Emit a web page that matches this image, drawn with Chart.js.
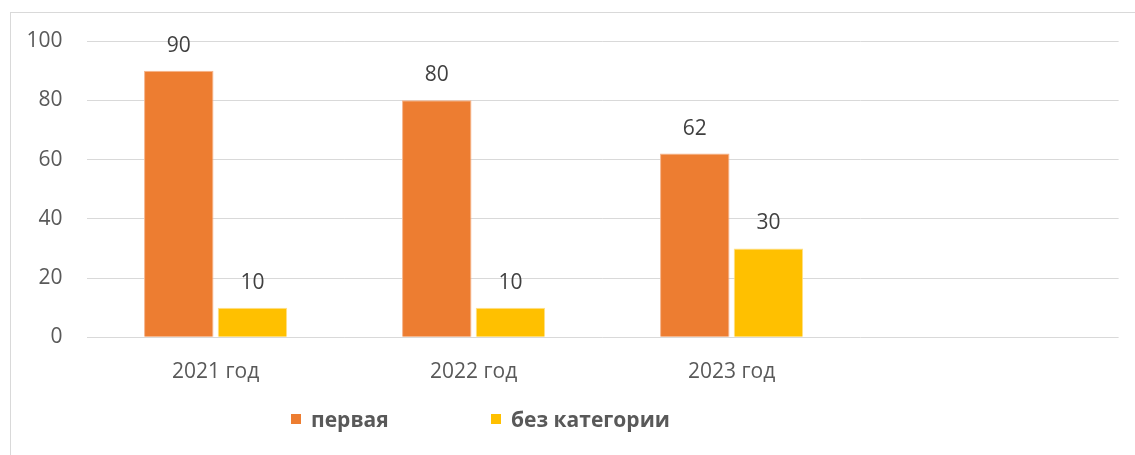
<!DOCTYPE html>
<html>
<head>
<meta charset="utf-8">
<script src="https://cdn.jsdelivr.net/npm/chart.js@4"></script>
<style>
  html, body { margin:0; padding:0; background:#fff; }
  #wrap { position:relative; width:1135px; height:455px; overflow:hidden; }
  #frame { position:absolute; left:10px; top:12px; width:1140px; height:460px; border:1px solid #d9d9d9; box-sizing:border-box; }
  canvas { position:absolute; left:0; top:0; }
  .leg { position:absolute; top:406px; height:26px; display:flex; align-items:center; font-family:"Open Sans", sans-serif; font-weight:bold; font-size:21px; color:#595959; white-space:nowrap; }
  .leg span.sw { display:inline-block; width:10px; height:10px; margin-right:10px; }
</style>
</head>
<body>
<div id="wrap">
  <div id="frame"></div>
  <canvas id="c" width="1135" height="455"></canvas>
</div>
<script>
const categories = ["2021 год", "2022 год", "2023 год", ""];
const seriesNames = ["первая", "без категории"];
const firstValues = [90, 80, 62, null];
const noCategoryValues = [10, 10, 30, null];
const yTicks = [0, 20, 40, 60, 80, 100];
const colors = ["#ED7D31", "#FFC000"];

const FONT = '"Open Sans", sans-serif';

const valueLabels = {
  id: 'valueLabels',
  afterDatasetsDraw(chart) {
    const ctx = chart.ctx;
    ctx.save();
    ctx.font = '21px ' + FONT;
    ctx.fillStyle = '#404040';
    ctx.textAlign = 'center';
    ctx.textBaseline = 'middle';
    chart.data.datasets.forEach((ds, i) => {
      chart.getDatasetMeta(i).data.forEach((bar, j) => {
        const v = ds.data[j];
        if (v === null || v === undefined) return;
        ctx.fillText(String(v), bar.x, bar.y - 25);
      });
    });
    ctx.restore();
  }
};

new Chart(document.getElementById('c'), {
  type: 'bar',
  data: {
    labels: categories,
    datasets: [
      { label: seriesNames[0], data: firstValues, backgroundColor: colors[0], borderColor: '#f6b48a', borderWidth: 1 },
      { label: seriesNames[1], data: noCategoryValues, backgroundColor: colors[1], borderColor: '#ffe08a', borderWidth: 1 }
    ]
  },
  options: {
    responsive: false,
    animation: false,
    categoryPercentage: 0.571,
    barPercentage: 0.943,
    layout: { padding: { left: 10, right: 16.4, top: 41, bottom: 0 } },
    plugins: { legend: { display: false }, tooltip: { enabled: false } },
    scales: {
      x: {
        grid: { display: false },
        border: { display: false },
        ticks: { font: { family: FONT, size: 21 }, color: '#595959', padding: 14, maxRotation: 0 },
        afterFit(s) { s.height = 455 - 337.3; }
      },
      y: {
        min: 0, max: 100,
        afterBuildTicks(s) { s.ticks = yTicks.map(v => ({ value: v })); },
        grid: { color: '#d9d9d9', lineWidth: 1, drawTicks: false },
        border: { display: false },
        ticks: { font: { family: FONT, size: 21 }, color: '#595959', padding: 24 },
        afterFit(s) { s.width = 76.6; }
      }
    }
  },
  plugins: [valueLabels]
});

const legendLefts = [291, 491];
seriesNames.forEach((name, i) => {
  const d = document.createElement('div');
  d.className = 'leg';
  d.style.left = legendLefts[i] + 'px';
  const sw = document.createElement('span');
  sw.className = 'sw';
  sw.style.background = colors[i];
  d.appendChild(sw);
  d.appendChild(document.createTextNode(name));
  document.getElementById('wrap').appendChild(d);
});
</script>
</body>
</html>
